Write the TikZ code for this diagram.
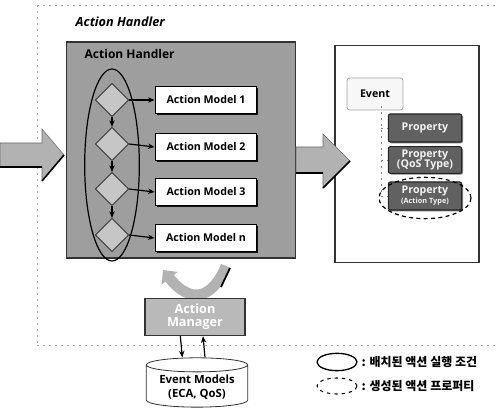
\documentclass[tikz,border=0pt]{standalone}
\usepackage{fontspec}
\setmainfont{Open Sans}
\newfontfamily\kofont{Noto Sans CJK KR}
\usetikzlibrary{arrows.meta,shapes.geometric,shadows}
\definecolor{hgray}{gray}{0.62}
\definecolor{pgray}{gray}{0.38}
\definecolor{agray}{gray}{0.7}
\tikzset{
  px/.style={x=0.75pt,y=-0.75pt},
  dots/.style={draw=gray!70,line width=0.5pt,dash pattern=on 1.5pt off 3pt},
  modelbox/.style={draw=black,line width=1pt,fill=white,minimum width=76pt,minimum height=20pt,font=\bfseries\fontsize{8}{9}\selectfont,drop shadow={shadow xshift=1.2pt,shadow yshift=-1.2pt,fill=black,opacity=0.9}},
  decis/.style={diamond,draw=black!80,line width=0.6pt,fill=gray!45,minimum width=25pt,minimum height=25pt,inner sep=0pt},
  propbox/.style={draw=black!85,line width=0.8pt,fill=pgray,rounded corners=1.5pt,minimum width=55pt,text=gray!10,font=\bfseries\fontsize{8}{8.5}\selectfont,align=center,inner sep=1pt,drop shadow={shadow xshift=1pt,shadow yshift=-1pt,fill=black}},
  flow/.style={-{Stealth[length=5pt,width=4pt]},line width=0.9pt},
  blockarrow/.style={fill=agray,draw=agray!60!black,line width=0.4pt},
  legtext/.style={anchor=west,font=\kofont\bfseries\fontsize{9}{10}\selectfont},
}
\begin{document}
\begin{tikzpicture}[px]
\useasboundingbox (0,0) rectangle (496,413);
% dotted frame
\draw[dots] (37,5) -- (496,5);
\draw[dots] (37,5) -- (37,345);
\draw[dots] (37,345) -- (496,345);
\node[anchor=west,font=\bfseries\itshape\fontsize{9.5}{11}\selectfont] (title) at (71,22) {Action Handler};
% main grey box
\node[draw=black!80,line width=0.8pt,fill=hgray,minimum width=171.75pt,minimum height=162pt,inner sep=0pt] (handler) at (181,150) {};
\node[anchor=west,font=\bfseries\fontsize{9}{10}\selectfont] (htitle) at (80,54) {Action Handler};
% ellipse of conditions
\node[ellipse,draw=black,line width=0.9pt,minimum width=41pt,minimum height=144pt] (cond) at (112,165) {};
% diamonds
\node[decis] (d1) at (112,100) {};
\node[decis] (d2) at (112,144) {};
\node[decis] (d3) at (112,189) {};
\node[decis] (d4) at (112,235) {};
\draw[flow] (d1.south) -- (d2.north);
\draw[flow] (d2.south) -- (d3.north);
\draw[flow] (d3.south) -- (d4.north);
% action models
\node[modelbox] (m1) at (206,100) {Action Model 1};
\node[modelbox] (m2) at (206,147) {Action Model 2};
\node[modelbox] (m3) at (206,192) {Action Model 3};
\node[modelbox] (mn) at (206,238) {Action Model n};
\draw[flow] (d1.east) -- (m1.west);
\draw[flow] (d2.east) -- (m2.west);
\draw[flow] (d3.east) -- (m3.west);
\draw[flow] (d4.east) -- (mn.west);
% left block arrow
\path[blockarrow] (0,143) -- (42,143) -- (42,129) -- (64,155) -- (42,181) -- (42,167) -- (0,167) -- cycle;
\draw[black,line width=1.2pt] (0,167) -- (42,167);
\draw[black,line width=1.2pt] (42,181) -- (64,155);
% right white box
\node[draw=black!80,line width=0.8pt,fill=white,minimum width=108pt,minimum height=163pt,inner sep=0pt] (evbox) at (407,154) {};
% right block arrow
\path[blockarrow] (296,147) -- (323,147) -- (323,134) -- (350,161) -- (323,188) -- (323,173) -- (296,173) -- cycle;
\draw[black,line width=1.2pt] (296,173) -- (323,173);
\draw[black,line width=1.2pt] (323,188) -- (350,161);
% event tree
\node[draw=gray!70,line width=0.6pt,fill=gray!6,rounded corners=2pt,minimum width=42pt,minimum height=24pt,font=\bfseries\fontsize{8}{9}\selectfont] (event) at (375,94) {Event};
\coordinate (trunk) at (381,106);
\coordinate (tend) at (381,197);
\draw[dots,draw=gray] (trunk) -- (tend);
\node[propbox,minimum height=21pt] (p1) at (425,128) {Property};
\node[propbox,minimum height=20pt] (p2) at (425,160) {Property\\[-1pt](QoS Type)};
\node[propbox,minimum height=21pt] (p3) at (425,196) {Property\\[-1pt]{\fontsize{5.5}{6}\selectfont(Action Type)}};
\draw[dots,draw=gray] (381,128) -- (p1.west);
\draw[dots,draw=gray] (381,160) -- (p2.west);
\draw[dots,draw=gray] (381,196) -- (p3.west);
\node[ellipse,draw=black,line width=0.9pt,dash pattern=on 3pt off 2.5pt,minimum width=69pt,minimum height=31pt] (genp) at (425,198) {};
% curved arrow to manager
\coordinate (ca) at (226,266);
\coordinate (cb) at (163,270);
\draw[agray,line width=8pt,-{Triangle[length=8pt,width=15pt]}] (ca) .. controls (212,300) and (190,304) .. (cb);
\draw[black,line width=1.3pt] (230,268) -- (221,287);
% action manager
\node[draw=black!80,line width=0.8pt,fill=gray!55,minimum width=75pt,minimum height=28pt,text=white,align=center,font=\bfseries\fontsize{9.5}{10}\selectfont,inner sep=1pt] (mgr) at (195,317) {Action\\Manager};
% database cylinder
\node[cylinder,shape border rotate=90,draw=black!80,line width=0.6pt,fill=white,aspect=0.18,minimum width=76pt,minimum height=37pt,align=center,font=\bfseries\fontsize{8.5}{10}\selectfont,inner sep=1pt] (db) at (197,387) {Event Models\\(ECA, QoS)};
\draw[flow] ([xshift=-11pt]mgr.south) -- ([xshift=-11pt]db.north);
\draw[flow] ([xshift=6pt]db.north) -- ([xshift=6pt]mgr.south);
% legend
\node[ellipse,draw=black,line width=1pt,minimum width=30pt,minimum height=13pt,inner sep=0pt] (lg1) at (337,362) {};
\node[ellipse,draw=black,line width=0.8pt,dash pattern=on 2.5pt off 3pt,minimum width=30pt,minimum height=12pt,inner sep=0pt] (lg2) at (337,386) {};
\node[legtext] (lt1) at (357,362) {: 배치된 액션 실행 조건};
\node[legtext] (lt2) at (357,386) {: 생성된 액션 프로퍼티};
\end{tikzpicture}
\end{document}
